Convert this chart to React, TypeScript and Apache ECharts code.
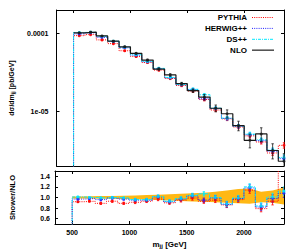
import React, { useEffect, useRef } from 'react';
import * as echarts from 'echarts';

// ---- data ----
const binEdges = [500, 600, 700, 800, 900, 1000, 1100, 1200, 1300, 1400, 1500, 1600, 1700, 1800, 1900, 2000, 2100, 2200, 2300, 2400];
const nloXsec = [1.02e-4, 1.04e-4, 9.3e-5, 7.97e-5, 6.75e-5, 5.56e-5, 4.56e-5, 3.5e-5, 2.94e-5, 2.27e-5, 1.85e-5, 1.53e-5, 1.1e-5, 9.35e-6, 6.58e-6, 4.27e-6, 5.15e-6, 3.16e-6, 2.3e-6];
const nloRelErr = [0.01, 0.01, 0.015, 0.015, 0.02, 0.02, 0.025, 0.03, 0.035, 0.04, 0.05, 0.08, 0.1, 0.12, 0.14, 0.2, 0.2, 0.22, 0.25];
const pythiaRatio = [0.92, 0.93, 0.89, 0.93, 0.89, 0.91, 0.93, 0.97, 0.9, 0.95, 0.99, 0.93, 0.95, 0.86, 0.96, 1.14, 0.79, 0.93, 1.6];
const herwigRatio = [0.97, 0.98, 0.96, 0.99, 0.97, 0.95, 0.95, 1.01, 0.92, 0.97, 1.03, 0.95, 0.99, 0.87, 0.98, 1.18, 0.82, 0.98, 1.08];
const dsRatio = [1.01, 1.0, 0.99, 1.0, 0.99, 0.96, 0.96, 1.02, 0.93, 0.98, 1.04, 1.07, 1.0, 0.88, 0.99, 1.2, 0.84, 1.01, 1.12];
const showerRelErr = [0.015, 0.015, 0.02, 0.02, 0.02, 0.025, 0.025, 0.03, 0.03, 0.035, 0.04, 0.04, 0.045, 0.05, 0.05, 0.06, 0.06, 0.07, 0.08];
const bandLow = [0.98, 0.98, 0.975, 0.975, 0.97, 0.965, 0.96, 0.955, 0.945, 0.935, 0.925, 0.92, 0.91, 0.9, 0.89, 0.88, 0.91, 0.9, 0.87];
const bandHigh = [1.02, 1.025, 1.03, 1.03, 1.035, 1.04, 1.045, 1.05, 1.06, 1.07, 1.08, 1.09, 1.11, 1.13, 1.16, 1.17, 1.11, 1.13, 1.19];

const xTicks = [500, 1000, 1500, 2000];
const ratioTicks = [0.6, 0.8, 1.0, 1.2, 1.4];
const logTickLabels: Record<string, string> = { '-5': '1e-05', '-4': '0.0001' };
const legendNames = ['PYTHIA', 'HERWIG++', 'DS++', 'NLO'];

const FONT = '"Liberation Sans", Arial, sans-serif';
const RED = '#ff0000';
const BLUE = '#2020ff';
const CYAN = '#00e8ff';
const BLACK = '#1a1a1a';
const BAND = '#ffb814';

const X_MIN = 350, X_MAX = 2350;
const Y_MIN = 2e-6, Y_MAX = 2e-4;

const centers = binEdges.slice(0, -1).map((e, i) => (e + binEdges[i + 1]) / 2);

function stepData(values: number[], bottom: number | null) {
  const pts: any[] = [];
  if (bottom !== null) pts.push([binEdges[0], bottom]);
  values.forEach((v, i) => pts.push([binEdges[i], v]));
  pts.push([binEdges[binEdges.length - 1], values[values.length - 1]]);
  return pts;
}

function errBars(name: string, xi: number, yi: number, data: number[][], color: string, z: number) {
  return {
    name, type: 'custom', xAxisIndex: xi, yAxisIndex: yi, clip: true, silent: true, z,
    data,
    encode: { x: 0, y: [1, 2] },
    renderItem: (params: any, api: any) => {
      const x = api.value(0), lo = api.value(1), hi = api.value(2);
      const a = api.coord([x, lo]);
      const b = api.coord([x, hi]);
      const c = 1.2;
      return {
        type: 'group',
        children: [
          { type: 'line', shape: { x1: a[0], y1: a[1], x2: b[0], y2: b[1] }, style: { stroke: color, lineWidth: 0.8 } },
          { type: 'line', shape: { x1: a[0] - c, y1: a[1], x2: a[0] + c, y2: a[1] }, style: { stroke: color, lineWidth: 0.8 } },
          { type: 'line', shape: { x1: b[0] - c, y1: b[1], x2: b[0] + c, y2: b[1] }, style: { stroke: color, lineWidth: 0.8 } },
        ],
      };
    },
  };
}

function stepLine(name: string, xi: number, yi: number, data: any[], color: string, dash: any, width: number, z: number) {
  return {
    name, type: 'line', xAxisIndex: xi, yAxisIndex: yi, step: 'end', data, symbol: 'none', z,
    lineStyle: { color, width, type: dash }, clip: true, silent: true,
  };
}

function points(name: string, xi: number, yi: number, data: any[], color: string, z: number) {
  return {
    name, type: 'scatter', xAxisIndex: xi, yAxisIndex: yi, data, symbol: 'circle', symbolSize: 3,
    itemStyle: { color }, z, silent: true, clip: true,
  };
}

const axisCommon = {
  axisLine: { show: true, onZero: false, lineStyle: { color: '#000', width: 1 } },
  axisTick: { show: true, inside: true, length: 3, lineStyle: { color: '#000', width: 1 } },
  splitLine: { show: false },
};

export default function App() {
  const ref = useRef<HTMLDivElement>(null);
  useEffect(() => {
    if (!ref.current) return;
    const chart = echarts.init(ref.current, null, { renderer: 'svg' });

    const showers = [
      { name: 'PYTHIA', ratio: pythiaRatio, color: RED, dash: [1, 1.2] },
      { name: 'HERWIG++', ratio: herwigRatio, color: BLUE, dash: [1, 1.2] },
      { name: 'DS++', ratio: dsRatio, color: CYAN, dash: [3, 1, 1, 1] },
    ];

    const series: any[] = [];
    // ratio band
    const bandPts = [[binEdges[0], bandLow[0], bandHigh[0]]]
      .concat(centers.map((c, i) => [c, bandLow[i], bandHigh[i]]))
      .concat([[binEdges[binEdges.length - 1], bandLow[bandLow.length - 1], bandHigh[bandHigh.length - 1]]]);
    series.push({
      name: 'NLO band', type: 'custom', xAxisIndex: 2, yAxisIndex: 2, clip: true, silent: true, z: 1,
      data: bandPts, encode: { x: 0, y: [1, 2] },
      renderItem: (params: any, api: any) => {
        if (params.dataIndex !== 0) return null;
        const up = bandPts.map((p) => api.coord([p[0], p[2]]));
        const low = bandPts.map((p) => api.coord([p[0], p[1]])).reverse();
        return { type: 'polygon', shape: { points: up.concat(low) }, style: { fill: BAND } };
      },
    });

    showers.forEach((s, k) => {
      const xsec = nloXsec.map((v, i) => v * s.ratio[i]);
      // top panel
      series.push(stepLine(s.name, 0, 0, stepData(xsec, 1e-8), s.color, s.dash, 1, 2 + k));
      series.push(errBars(s.name + ' err', 0, 0, centers.map((c, i) => [c, xsec[i] * (1 - showerRelErr[i]), xsec[i] * (1 + showerRelErr[i])]), s.color, 6 + k));
      series.push(points(s.name + ' pts', 0, 0, centers.map((c, i) => [c, xsec[i]]), s.color, 10 + k));
      // ratio panel
      series.push(stepLine(s.name + ' ratio', 2, 2, stepData(s.ratio, 0.1), s.color, s.dash, 1, 2 + k));
      series.push(errBars(s.name + ' ratio err', 2, 2, centers.map((c, i) => [c, s.ratio[i] - showerRelErr[i], s.ratio[i] + showerRelErr[i]]), s.color, 6 + k));
      series.push(points(s.name + ' ratio pts', 2, 2, centers.map((c, i) => [c, s.ratio[i]]), s.color, 10 + k));
    });

    series.push(stepLine('NLO', 0, 0, stepData(nloXsec, null), BLACK, 'solid', 1.2, 14));
    series.push(errBars('NLO err', 0, 0, centers.map((c, i) => [c, nloXsec[i] * (1 - nloRelErr[i]), nloXsec[i] * (1 + nloRelErr[i])]), BLACK, 15));
    series.push(points('NLO pts', 0, 0, centers.map((c, i) => [c, nloXsec[i]]), BLACK, 16));

    const legendStyles = [
      { color: RED, dash: [1, 1.2], w: 1 },
      { color: BLUE, dash: [1, 1.2], w: 1 },
      { color: CYAN, dash: [3, 1, 1, 1], w: 1 },
      { color: '#555', dash: null, w: 1.6 },
    ];
    const graphic: any[] = legendNames.map((n, i) => {
      const y = 17.5 + i * 10.9;
      const st = legendStyles[i];
      return {
        type: 'group',
        children: [
          { type: 'text', x: 247, y, style: { text: n, align: 'right', verticalAlign: 'middle', font: `bold 8px ${FONT}`, fill: '#000' } },
          { type: 'line', shape: { x1: 252, y1: y, x2: 274, y2: y }, style: { stroke: st.color, lineWidth: st.w, lineDash: st.dash } },
        ],
      };
    });

    const tickLabelStyle = { color: '#000', fontSize: 7, fontWeight: 'bold', fontFamily: FONT };
    const subRich = (size: number) => ({
      t: { fontSize: size, fontWeight: 'bold', fontFamily: FONT, color: '#000' },
      s: { fontSize: size - 2, fontWeight: 'bold', fontFamily: FONT, color: '#000', verticalAlign: 'bottom', padding: [3, 0, 0, 0] },
    });

    const xBase = { type: 'value', min: X_MIN, max: X_MAX, ...axisCommon };
    const option: any = {
      animation: false,
      grid: [
        { left: 55, top: 10, width: 229, height: 156 },
        { left: 55, top: 171, width: 229, height: 53 },
      ],
      xAxis: [
        { ...xBase, gridIndex: 0, position: 'bottom', axisTick: { ...axisCommon.axisTick, customValues: xTicks }, axisLabel: { show: false } },
        { ...xBase, gridIndex: 0, position: 'top', axisTick: { ...axisCommon.axisTick, customValues: xTicks }, axisLabel: { show: false } },
        {
          ...xBase, gridIndex: 1, position: 'bottom',
          axisTick: { ...axisCommon.axisTick, customValues: xTicks },
          axisLabel: { ...tickLabelStyle, customValues: xTicks, margin: 5, formatter: (v: number) => String(v) },
          name: '{t|m}{s|jj}{t| [GeV]}', nameLocation: 'middle', nameGap: 16,
          nameTextStyle: { rich: subRich(8) },
        },
        { ...xBase, gridIndex: 1, position: 'top', axisTick: { ...axisCommon.axisTick, customValues: xTicks }, axisLabel: { show: false } },
      ],
      yAxis: [
        {
          type: 'log', gridIndex: 0, min: Y_MIN, max: Y_MAX, position: 'left', ...axisCommon,
          axisLabel: {
            ...tickLabelStyle, margin: 8, showMinLabel: false, showMaxLabel: false,
            formatter: (v: number) => logTickLabels[String(Math.round(Math.log10(v)))] ?? '',
          },
          name: '{t|dσ/dm}{s|jj}{t| [pb/GeV]}', nameLocation: 'middle', nameGap: 41, nameRotate: 90,
          nameTextStyle: { rich: subRich(7) },
        },
        { type: 'log', gridIndex: 0, min: Y_MIN, max: Y_MAX, position: 'right', ...axisCommon, axisLabel: { show: false } },
        {
          type: 'value', gridIndex: 1, min: 0.5, max: 1.5, position: 'left', ...axisCommon,
          axisTick: { ...axisCommon.axisTick, customValues: ratioTicks },
          axisLabel: { ...tickLabelStyle, customValues: ratioTicks, margin: 5, formatter: (v: number) => v.toFixed(1) },
          name: 'Shower/NLO', nameLocation: 'middle', nameGap: 39, nameRotate: 90,
          nameTextStyle: { color: '#000', fontSize: 7.5, fontWeight: 'bold', fontFamily: FONT },
        },
        {
          type: 'value', gridIndex: 1, min: 0.5, max: 1.5, position: 'right', ...axisCommon,
          axisTick: { ...axisCommon.axisTick, customValues: ratioTicks }, axisLabel: { show: false },
        },
      ],
      graphic,
      series,
    };
    chart.setOption(option);
    return () => chart.dispose();
  }, []);
  return <div ref={ref} style={{ position: 'fixed', left: 0, top: 0, width: 299, height: 252, background: '#fff' }} />;
}
